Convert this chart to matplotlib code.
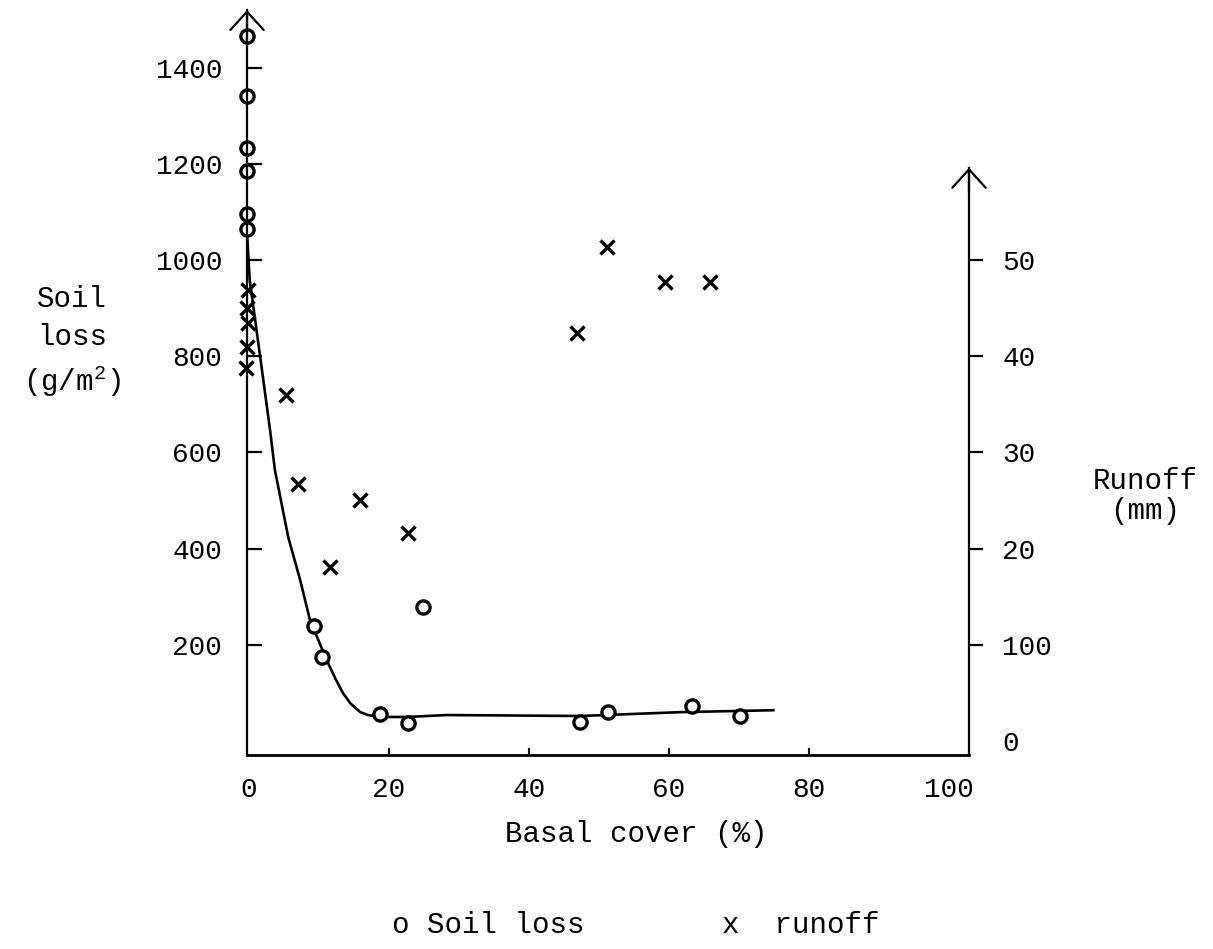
import matplotlib
matplotlib.use("Agg")
import matplotlib.pyplot as plt

plt.rcParams['font.family'] = ['Liberation Mono', 'DejaVu Sans']
plt.rcParams['mathtext.fontset'] = 'custom'
plt.rcParams['mathtext.rm'] = 'Liberation Mono'

# soil loss (g/m2) against basal cover (%)
soil_x = [-0.3, -0.3, -0.3, -0.3, -0.3, -0.3, 9.3, 10.4, 18.7, 22.7, 24.9, 47.3, 51.3, 63.3, 70.1]
soil_y = [1466, 1341, 1233, 1185, 1096, 1064, 239, 175, 56, 37, 279, 40, 60, 73, 52]

# runoff (mm) against basal cover (%)
runoff_x = [-0.2, -0.3, -0.2, -0.3, -0.4, 5.3, 7.0, 11.6, 15.9, 22.7, 46.9, 51.1, 59.4, 65.9]
runoff_y = [46.9, 45.0, 43.5, 41.0, 38.8, 36.0, 26.7, 18.1, 25.1, 21.6, 42.4, 51.4, 47.7, 47.7]

# hand drawn fit through the soil loss points
curve_x = [-0.3, 0.1, 1.6, 3.0, 3.7, 5.6, 7.3, 8.7, 11.1, 12.4, 13.4, 14.5, 15.9, 17.0, 18.7,
           22.6, 28.3, 47.3, 61.6, 74.9]
curve_y = [1060, 958, 798, 647, 563, 424, 335, 252, 168, 128, 100, 78, 60, 54, 50,
           50, 54, 52, 60, 64]

x_ticks = [0, 20, 40, 60, 80, 100]
soil_ticks = [200, 400, 600, 800, 1000, 1200, 1400]
runoff_ticks = [0, 10, 20, 30, 40, 50]
runoff_tick_labels = ['0', '100', '20', '30', '40', '50']

W, H = 1213, 949
fig = plt.figure(figsize=(W / 100, H / 100), dpi=100)
ax = fig.add_axes([247 / W, (H - 755) / H, (969 - 247) / W, (755 - 10) / H])

ylo, yhi = -29.1, 1520
ax.set_xlim(-0.29, 102.86)
ax.set_ylim(ylo, yhi)

ax.plot(curve_x, curve_y, color='black', lw=1.9, clip_on=False, solid_joinstyle='round')
ax.plot(soil_x, soil_y, 'o', ms=9.5, mfc='white', mec='black', mew=2.4, clip_on=False)

for s in ['top', 'right']:
    ax.spines[s].set_visible(False)
ax.spines['left'].set_linewidth(1.6)
ax.spines['bottom'].set_linewidth(2.0)

ax.set_xticks(x_ticks)
ax.set_xticklabels([str(v) for v in x_ticks])
ax.set_yticks(soil_ticks)
ax.set_yticklabels([str(v) for v in soil_ticks])
ax.tick_params(axis='x', direction='in', length=5, width=1.5, labelsize=20, pad=16)
ax.tick_params(axis='y', direction='in', length=11, width=1.6, labelsize=20, pad=18)
for t in (ax.xaxis.get_major_ticks()[0], ax.xaxis.get_major_ticks()[-1]):
    t.tick1line.set_visible(False)

# runoff on the right hand axis
ax2 = ax.twinx()
ax2.set_ylim(ylo / 20, yhi / 20)
ax2.plot(runoff_x, runoff_y, 'x', ms=10, mec='black', mew=2.4, clip_on=False)
for s in ['top', 'left', 'bottom']:
    ax2.spines[s].set_visible(False)
ax2.spines['right'].set_linewidth(1.6)
ax2.spines['right'].set_bounds(ylo / 20, 59.6)
ax2.set_yticks(runoff_ticks)
ax2.set_yticklabels(runoff_tick_labels)
ax2.tick_params(axis='y', direction='out', length=10, width=1.6, labelsize=20, pad=14)
ax2.yaxis.get_major_ticks()[0].tick2line.set_visible(False)

# open arrow heads on the two vertical axes
head = dict(arrowstyle='->,head_length=1.1,head_width=1.0', lw=1.6, color='black',
            mutation_scale=12, shrinkA=0, shrinkB=0)
ax.annotate('', xy=(0, 1), xytext=(0, 0.95), xycoords='axes fraction', arrowprops=head)
ax2.annotate('', xy=(102.86, 59.6), xytext=(102.86, 57), xycoords='data', arrowprops=head,
             annotation_clip=False)

ax.set_xlabel('Basal cover (%)', fontsize=21)
ax.xaxis.set_label_coords((636 - 247) / 722, (755 - 834) / 745)
ax.xaxis.label.set_va('center')

ax.set_ylabel('Soil\nloss\n(g/m$^2$)', fontsize=21, rotation=0, linespacing=1.45)
ax.yaxis.set_label_coords((72 - 247) / 722, (755 - 342) / 745)
ax.yaxis.label.set_va('center')
ax.yaxis.label.set_ha('center')

ax2.set_ylabel('Runoff\n(mm)', fontsize=21, rotation=0, linespacing=1.1)
ax2.yaxis.set_label_coords((1145 - 247) / 722, (755 - 496) / 745)
ax2.yaxis.label.set_va('center')
ax2.yaxis.label.set_ha('center')

fig.text(392 / W, 1 - 925 / H, 'o Soil loss', fontsize=21, va='center')
fig.text(722 / W, 1 - 925 / H, 'x  runoff', fontsize=21, va='center')

fig.savefig('out.png', dpi=100, facecolor='white')
